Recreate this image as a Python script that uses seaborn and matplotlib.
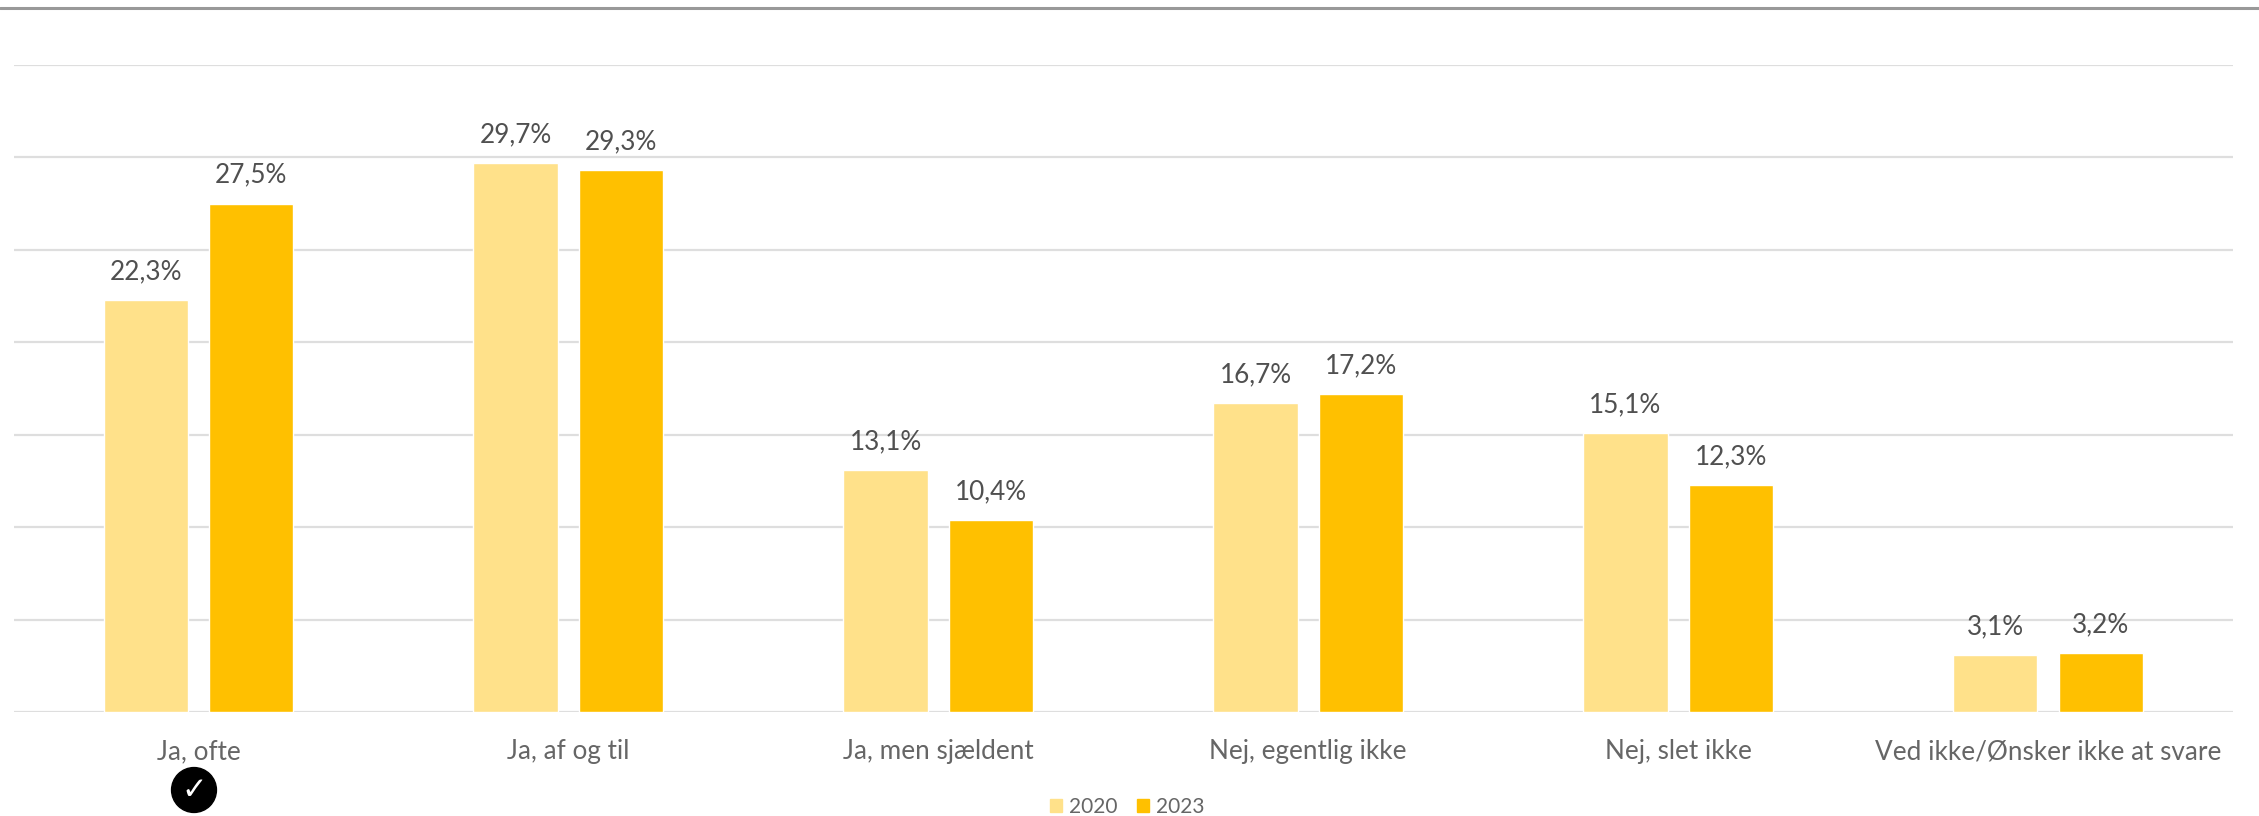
import pandas as pd
import matplotlib
matplotlib.use('Agg')
import matplotlib.pyplot as plt
from matplotlib.lines import Line2D
import seaborn as sns

# values
categories = ['Ja, ofte', 'Ja, af og til', 'Ja, men sjældent', 'Nej, egentlig ikke', 'Nej, slet ikke', 'Ved ikke/Ønsker ikke at svare']
values_2020 = [22.3, 29.7, 13.1, 16.7, 15.1, 3.1]
values_2023 = [27.5, 29.3, 10.4, 17.2, 12.3, 3.2]
years = ['2020', '2023']
colors = ['#FFE18A', '#FFC000']

W, H = 2259, 816

df = pd.DataFrame({'kategori': categories * 2,
                   'aar': [years[0]] * 6 + [years[1]] * 6,
                   'andel': values_2020 + values_2023})

sns.set_theme(style='whitegrid')
plt.rcParams['font.family'] = ['Lato', 'DejaVu Sans']

fig = plt.figure(figsize=(W / 100, H / 100), dpi=100)
ax = fig.add_axes([13.5 / W, 1 - 712.3 / H, (2233 - 13.5) / W, (712.3 - 65) / H])

sns.barplot(data=df, x='kategori', y='andel', hue='aar', palette=colors,
            width=0.57, gap=0.2, saturation=1, ax=ax)

ax.set_xlim(-0.5, 5.5)
ax.set_ylim(0, 35)
ax.set_yticks(range(0, 40, 5))
ax.tick_params(axis='y', left=False, labelleft=False)
ax.tick_params(axis='x', bottom=False, labelsize=18.8, labelcolor='#666666', pad=13.5)
ax.set_xlabel('')
ax.set_ylabel('')
ax.grid(axis='y', color='#DEDEDE', linewidth=1.6)
ax.grid(axis='x', visible=False)
ax.set_axisbelow(True)
sns.despine(ax=ax, left=True, top=True, right=True, bottom=True)

# percent labels with danish decimal comma
for cont in ax.containers:
    labels = [f'{v:.1f}%'.replace('.', ',') for v in cont.datavalues]
    ax.bar_label(cont, labels=labels, padding=11.5, fontsize=18.8, color='#505050')

# legend at the bottom
handles = [plt.Rectangle((0, 0), 1, 1, color=c) for c in colors]
ax.legend(handles, years, loc='center', bbox_to_anchor=(1127 / W, 1 - 807 / H),
          bbox_transform=fig.transFigure, ncol=2, frameon=False, fontsize=15,
          labelcolor='#666666', handlelength=0.58, handleheight=0.58,
          handletextpad=0.33, columnspacing=0.95, borderpad=0)

# top rule
fig.add_artist(Line2D([0, 1], [1 - 8 / H, 1 - 8 / H], color='#999999', linewidth=2.2))

# check mark under the first category
fig.text(194 / W, 1 - 790 / H, '\u2713', color='white', fontsize=22, ha='center', va='center',
         family='DejaVu Sans', fontweight='bold',
         bbox=dict(boxstyle='circle,pad=0.26', fc='black', ec='black'))

fig.savefig('out.png', dpi=100)
